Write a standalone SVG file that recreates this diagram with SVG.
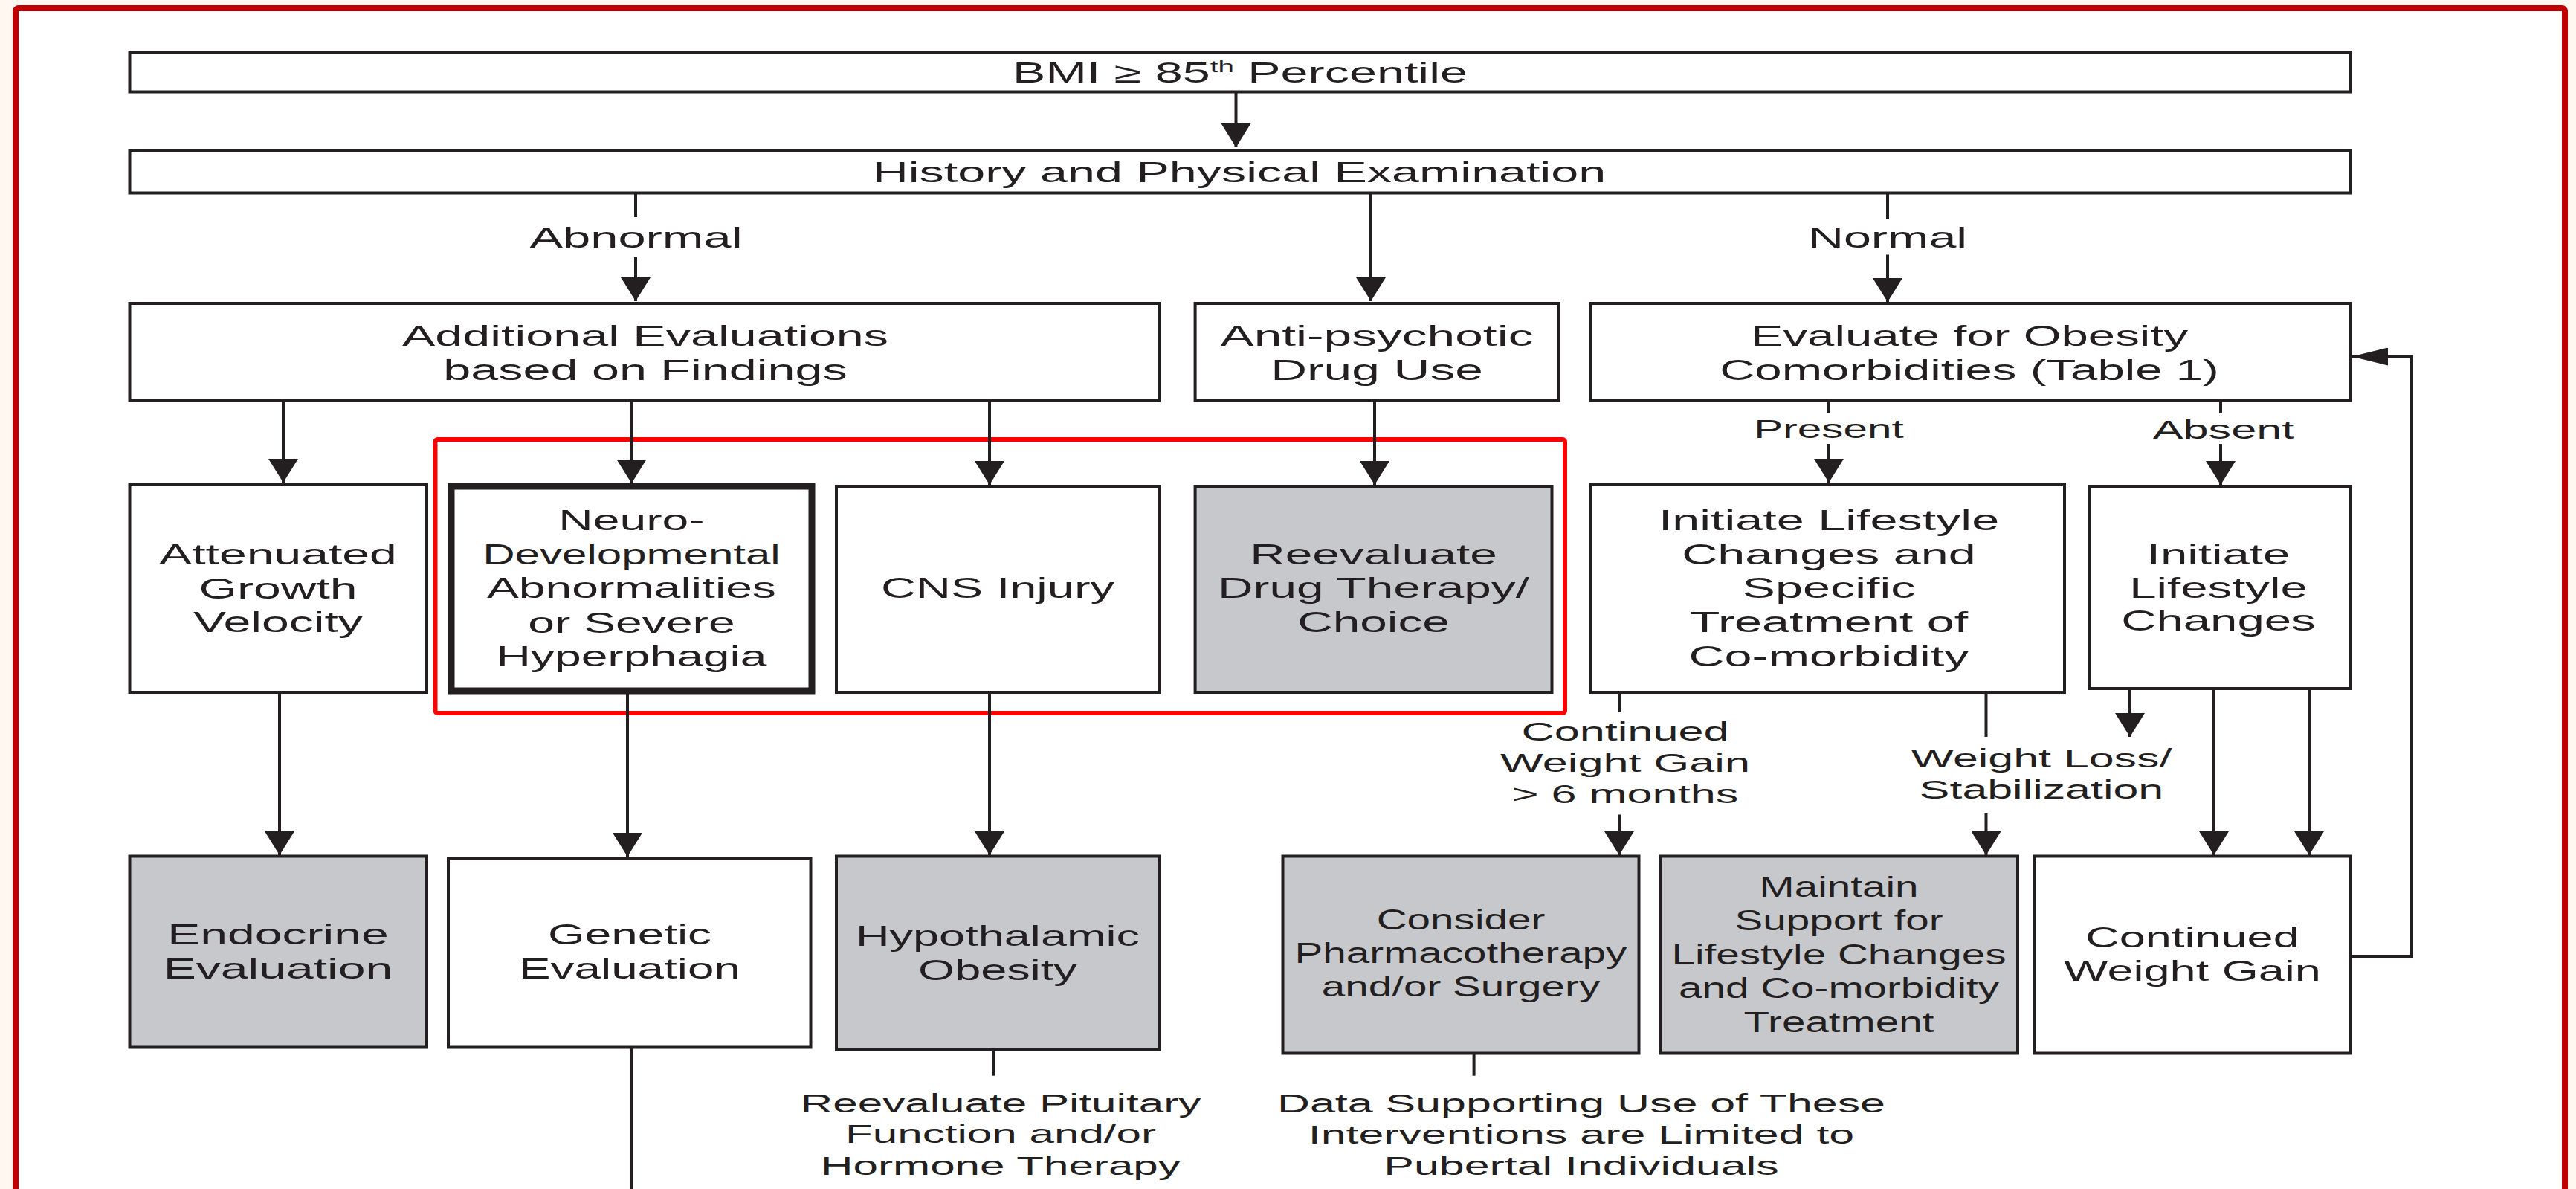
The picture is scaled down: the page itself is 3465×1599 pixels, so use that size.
<svg xmlns="http://www.w3.org/2000/svg" width="3465" height="1599" viewBox="0 0 3465 1599">
<style>
.t{font-family:"Liberation Sans",Arial,Helvetica,sans-serif;font-size:38px;fill:#231F20;text-anchor:middle}
.l{font-size:35px}
.box{fill:#FFFFFF;stroke:#231F20;stroke-width:4}
.g{fill:#C7C8CC}
.thick{stroke-width:9}
.c path{fill:none;stroke:#231F20;stroke-width:4}
</style>
<defs>
<marker id="ad" markerUnits="userSpaceOnUse" viewBox="0 -20 32 40" refX="32" refY="0" markerWidth="32" markerHeight="40" orient="auto">
<path d="M0,-20 L32,0 L0,20 Z" fill="#231F20"/>
</marker>
<marker id="al" markerUnits="userSpaceOnUse" viewBox="0 -12 49 24" refX="49" refY="0" markerWidth="49" markerHeight="24" orient="auto">
<path d="M0,-12 L49,0 L0,12 Z" fill="#231F20"/>
</marker>
</defs>
<rect x="0" y="0" width="3465" height="1599" fill="#FFF7F0"/>
<rect x="21" y="11" width="3429" height="1700" rx="4" fill="#FFFFFF" stroke="#C00000" stroke-width="8"/>
<rect id="highlight" x="585.5" y="591" width="1519.5" height="368" rx="3" fill="none" stroke="#FF0000" stroke-width="6"/>

<g class="c" id="connectors">
<path d="M1662.5,123.5 V198" marker-end="url(#ad)"/>
<path d="M855,259.5 V292"/>
<path d="M855,345.6 V405" marker-end="url(#ad)"/>
<path d="M1844,259.5 V405" marker-end="url(#ad)"/>
<path d="M2539,259.5 V294.7"/>
<path d="M2539,342.5 V406" marker-end="url(#ad)"/>
<path d="M381,538.5 V649" marker-end="url(#ad)"/>
<path d="M849.5,538.5 V650" marker-end="url(#ad)"/>
<path d="M1331,538.5 V652" marker-end="url(#ad)"/>
<path d="M1849,538.5 V652" marker-end="url(#ad)"/>
<path d="M2460,538.5 V555"/>
<path d="M2460,597 V649" marker-end="url(#ad)"/>
<path d="M2987,538.5 V555"/>
<path d="M2987,597 V652" marker-end="url(#ad)"/>
<path d="M376,931 V1150" marker-end="url(#ad)"/>
<path d="M844,929 V1152" marker-end="url(#ad)"/>
<path d="M1331,931 V1150" marker-end="url(#ad)"/>
<path d="M1336,1411.6 V1446.7"/>
<path d="M849.5,1408.5 V1610"/>
<path d="M2179,931 V957"/>
<path d="M2178,1095.5 V1150" marker-end="url(#ad)"/>
<path d="M2671.5,931 V991"/>
<path d="M2671.5,1094 V1150" marker-end="url(#ad)"/>
<path d="M2865,926 V991" marker-end="url(#ad)"/>
<path d="M2978,926 V1150" marker-end="url(#ad)"/>
<path d="M3106,926 V1150" marker-end="url(#ad)"/>
<path d="M1982.6,1416.5 V1446.7"/>
<path d="M3162,1286 H3244 V479.5 H3163" marker-end="url(#al)"/>
</g>

<g id="n-bmi">
<rect class="box" x="174.5" y="70" width="2987.5" height="53.5"/>
<text class="t" transform="translate(1668,0) scale(1.75,1)" y="111">BMI ≥ 85<tspan font-size="22" dy="-14">th</tspan><tspan dy="14"> Percentile</tspan></text>
</g>
<g id="n-history">
<rect class="box" x="174.5" y="202" width="2987.5" height="57.5"/>
<text class="t" transform="translate(1667,0) scale(1.75,1)" y="245">History and Physical Examination</text>
</g>
<g id="lbl-abnormal"><text class="t" transform="translate(855.5,0) scale(1.76,1)" y="333">Abnormal</text></g>
<g id="lbl-normal"><text class="t" transform="translate(2539,0) scale(1.75,1)" y="333">Normal</text></g>

<g id="n-additional">
<rect class="box" x="174.5" y="408" width="1384.5" height="130.5"/>
<text class="t" transform="translate(868,0) scale(1.75,1)"><tspan x="0" y="465">Additional Evaluations</tspan><tspan x="0" y="511">based on Findings</tspan></text>
</g>
<g id="n-antipsychotic">
<rect class="box" x="1607.6" y="408" width="489.4" height="130.5"/>
<text class="t" transform="translate(1852,0) scale(1.78,1)"><tspan x="0" y="465">Anti-psychotic</tspan><tspan x="0" y="511">Drug Use</tspan></text>
</g>
<g id="n-evaluate">
<rect class="box" x="2139.5" y="408" width="1022.5" height="130.5"/>
<text class="t" transform="translate(2649,0) scale(1.72,1)"><tspan x="0" y="465">Evaluate for Obesity</tspan><tspan x="0" y="511">Comorbidities (Table 1)</tspan></text>
</g>
<g id="lbl-present"><text class="t l" transform="translate(2460,0) scale(1.67,1)" y="589">Present</text></g>
<g id="lbl-absent"><text class="t l" transform="translate(2991,0) scale(1.75,1)" y="590">Absent</text></g>

<g id="n-attenuated">
<rect class="box" x="174.5" y="651" width="399.5" height="280"/>
<text class="t" transform="translate(374,0) scale(1.74,1)"><tspan x="0" y="759">Attenuated</tspan><tspan x="0" y="805">Growth</tspan><tspan x="0" y="850">Velocity</tspan></text>
</g>
<g id="n-neuro">
<rect class="box thick" x="607" y="654" width="485" height="275"/>
<text class="t" transform="translate(849.5,0) scale(1.69,1)"><tspan x="0" y="713">Neuro-</tspan><tspan x="0" y="804">Abnormalities</tspan><tspan x="0" y="851">or Severe</tspan><tspan x="0" y="896">Hyperphagia</tspan></text>
<text class="t" transform="translate(849.5,0) scale(1.58,1)" y="759">Developmental</text>
</g>
<g id="n-cns">
<rect class="box" x="1125" y="654" width="434.5" height="277"/>
<text class="t" transform="translate(1342,0) scale(1.71,1)" y="804">CNS Injury</text>
</g>
<g id="n-reevaluate-drug">
<rect class="box g" x="1607.6" y="654" width="479.9" height="277"/>
<text class="t" transform="translate(1847.5,0) scale(1.73,1)"><tspan x="0" y="759">Reevaluate</tspan><tspan x="0" y="804">Drug Therapy/</tspan><tspan x="0" y="850">Choice</tspan></text>
</g>
<g id="n-initiate-specific">
<rect class="box" x="2139.5" y="651" width="637.5" height="280"/>
<text class="t" transform="translate(2460,0) scale(1.75,1)"><tspan x="0" y="713">Initiate Lifestyle</tspan><tspan x="0" y="759">Changes and</tspan><tspan x="0" y="804">Specific</tspan><tspan x="0" y="850">Treatment of</tspan><tspan x="0" y="896">Co-morbidity</tspan></text>
</g>
<g id="n-initiate">
<rect class="box" x="2810" y="654" width="352" height="272"/>
<text class="t" transform="translate(2984,0) scale(1.72,1)"><tspan x="0" y="759">Initiate</tspan><tspan x="0" y="804">Lifestyle</tspan><tspan x="0" y="848">Changes</tspan></text>
</g>

<g id="lbl-continued"><text class="t l" transform="translate(2186,0) scale(1.75,1)"><tspan x="0" y="996">Continued</tspan><tspan x="0" y="1038">Weight Gain</tspan><tspan x="0" y="1080">&gt; 6 months</tspan></text></g>
<g id="lbl-weightloss"><text class="t l" transform="translate(2746,0) scale(1.74,1)"><tspan x="0" y="1032">Weight Loss/</tspan><tspan x="0" y="1074.5">Stabilization</tspan></text></g>

<g id="n-endocrine">
<rect class="box g" x="174.5" y="1151.5" width="399.5" height="257"/>
<text class="t" transform="translate(374,0) scale(1.74,1)"><tspan x="0" y="1270.5">Endocrine</tspan><tspan x="0" y="1316">Evaluation</tspan></text>
</g>
<g id="n-genetic">
<rect class="box" x="603" y="1154" width="487.5" height="254.5"/>
<text class="t" transform="translate(847,0) scale(1.68,1)"><tspan x="0" y="1270.5">Genetic</tspan><tspan x="0" y="1316">Evaluation</tspan></text>
</g>
<g id="n-hypothalamic">
<rect class="box g" x="1125" y="1151.5" width="434.5" height="260"/>
<text class="t" transform="translate(1342,0) scale(1.66,1)"><tspan x="0" y="1272">Hypothalamic</tspan><tspan x="0" y="1318">Obesity</tspan></text>
</g>
<g id="n-consider">
<rect class="box g" x="1725.5" y="1151.5" width="479" height="265"/>
<text class="t" transform="translate(1965,0) scale(1.49,1)"><tspan x="0" y="1250">Consider</tspan><tspan x="0" y="1295">Pharmacotherapy</tspan><tspan x="0" y="1340.5">and/or Surgery</tspan></text>
</g>
<g id="n-maintain">
<rect class="box g" x="2233" y="1151.5" width="481" height="265"/>
<text class="t" transform="translate(2473.5,0) scale(1.49,1)"><tspan x="0" y="1206">Maintain</tspan><tspan x="0" y="1251.5">Support for</tspan><tspan x="0" y="1297">Lifestyle Changes</tspan><tspan x="0" y="1342.5">and Co-morbidity</tspan><tspan x="0" y="1388">Treatment</tspan></text>
</g>
<g id="n-continued">
<rect class="box" x="2736" y="1151.5" width="426" height="265"/>
<text class="t" transform="translate(2949,0) scale(1.66,1)"><tspan x="0" y="1274">Continued</tspan><tspan x="0" y="1319.5">Weight Gain</tspan></text>
</g>

<g id="lbl-pituitary"><text class="t l" transform="translate(1346,0) scale(1.72,1)"><tspan x="0" y="1496">Reevaluate Pituitary</tspan><tspan x="0" y="1537">Function and/or</tspan><tspan x="0" y="1580">Hormone Therapy</tspan></text></g>
<g id="lbl-data"><text class="t l" transform="translate(2127,0) scale(1.74,1)"><tspan x="0" y="1496">Data Supporting Use of These</tspan><tspan x="0" y="1538">Interventions are Limited to</tspan><tspan x="0" y="1580">Pubertal Individuals</tspan></text></g>
</svg>
